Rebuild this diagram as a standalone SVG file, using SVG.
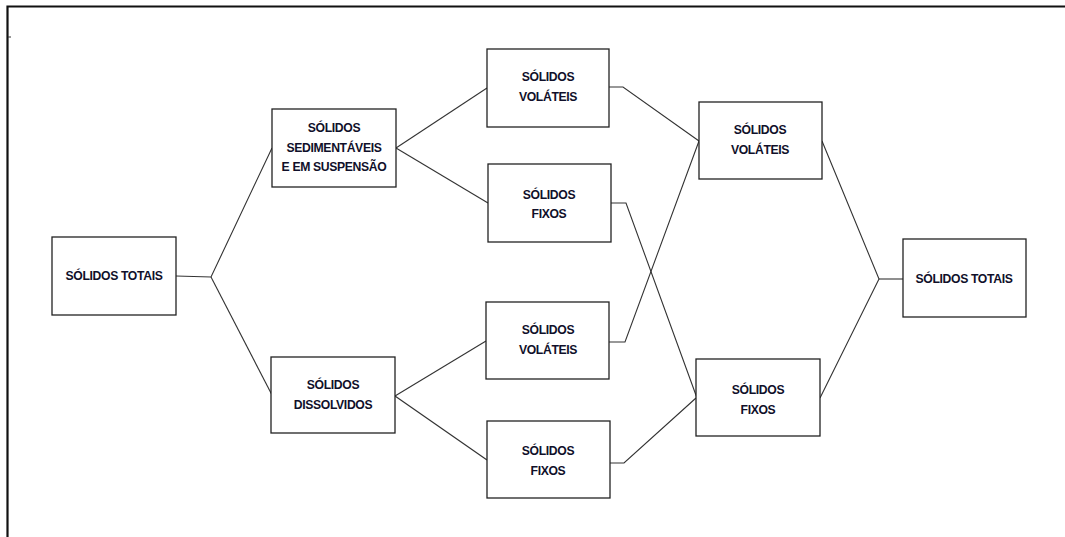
<svg xmlns="http://www.w3.org/2000/svg" width="1065" height="537" viewBox="0 0 1065 537">
<style>
.box{fill:#fff;stroke:#222;stroke-width:1.3}
.lbl{font-family:"Liberation Sans",Arial,sans-serif;font-weight:bold;font-size:12.2px;letter-spacing:-0.35px;fill:#10102a;text-anchor:middle}
.con{fill:none;stroke:#333;stroke-width:1.1}
.frame{fill:none;stroke:#111;stroke-width:2.2}
</style>
<rect width="1065" height="537" fill="#fff"/>
<path class="frame" d="M1065,6.5 H7.5 V537"/>
<line x1="8" y1="37" x2="11" y2="37" stroke="#333" stroke-width="1"/>
<g id="connectors">
<polyline class="con" points="176,276 211,277 272,148"/>
<polyline class="con" points="211,277 272,395"/>
<polyline class="con" points="396,148 487,88"/>
<polyline class="con" points="396,148 488,203"/>
<polyline class="con" points="395,396 486,341"/>
<polyline class="con" points="395,396 487,460"/>
<polyline class="con" points="609,87 623,87 699,141"/>
<polyline class="con" points="611,203 626,203 697,398"/>
<polyline class="con" points="609,342 625,342 699,141"/>
<polyline class="con" points="610,463 624,463 696,398"/>
<polyline class="con" points="822,141 879,279 820,398"/>
<polyline class="con" points="879,279 903,279"/>
</g>
<g id="n_totais_esq"><rect class="box" x="52" y="237" width="124" height="78"/><text class="lbl" x="114" y="280">SÓLIDOS TOTAIS</text></g>
<g id="n_sedimentaveis"><rect class="box" x="272" y="109" width="124" height="78"/><text class="lbl" x="334" y="132">SÓLIDOS</text><text class="lbl" x="334" y="152">SEDIMENTÁVEIS</text><text class="lbl" x="334" y="171">E EM SUSPENSÃO</text></g>
<g id="n_dissolvidos"><rect class="box" x="271" y="357" width="124" height="76"/><text class="lbl" x="333" y="389">SÓLIDOS</text><text class="lbl" x="333" y="409">DISSOLVIDOS</text></g>
<g id="n_volateis_1"><rect class="box" x="487" y="49" width="122" height="78"/><text class="lbl" x="548" y="81">SÓLIDOS</text><text class="lbl" x="548" y="101">VOLÁTEIS</text></g>
<g id="n_fixos_1"><rect class="box" x="488" y="164" width="123" height="78"/><text class="lbl" x="549" y="199">SÓLIDOS</text><text class="lbl" x="549" y="218">FIXOS</text></g>
<g id="n_volateis_2"><rect class="box" x="486" y="302" width="123" height="77"/><text class="lbl" x="548" y="334">SÓLIDOS</text><text class="lbl" x="548" y="354">VOLÁTEIS</text></g>
<g id="n_fixos_2"><rect class="box" x="487" y="421" width="123" height="77"/><text class="lbl" x="548" y="455">SÓLIDOS</text><text class="lbl" x="548" y="475">FIXOS</text></g>
<g id="n_volateis_dir"><rect class="box" x="699" y="102" width="123" height="77"/><text class="lbl" x="760" y="134">SÓLIDOS</text><text class="lbl" x="760" y="154">VOLÁTEIS</text></g>
<g id="n_fixos_dir"><rect class="box" x="696" y="359" width="124" height="77"/><text class="lbl" x="758" y="394">SÓLIDOS</text><text class="lbl" x="758" y="414">FIXOS</text></g>
<g id="n_totais_dir"><rect class="box" x="903" y="239" width="123" height="78"/><text class="lbl" x="964" y="283">SÓLIDOS TOTAIS</text></g>
</svg>
